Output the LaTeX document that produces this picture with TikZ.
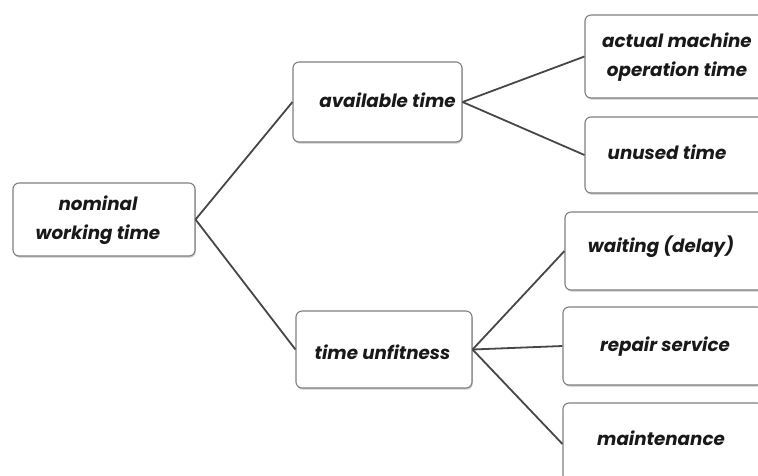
\documentclass[tikz,border=0pt]{standalone}
\usepackage{fontspec}
\setmainfont{Poppins}
\usetikzlibrary{shadows}
\begin{document}
\begin{tikzpicture}[x=1pt,y=-1pt,
  box/.style={draw=black!50, line width=1.1pt, rounded corners=6pt, fill=white,
    drop shadow={shadow xshift=0.8pt, shadow yshift=-1.6pt, opacity=0.35, fill=black!60},
    inner sep=0pt},
  lbl/.style={font=\fontsize{18.3}{29}\selectfont\bfseries\itshape, text=black!90, align=center, inner sep=0pt},
  conn/.style={draw=black!72, line width=1.8pt}]
\useasboundingbox (0,0) rectangle (758,475);
\clip (0,0) rectangle (758,475);
\fill[white] (0,0) rectangle (758,475);
% boxes
\node[box, minimum width=182, minimum height=73] (nom) at (104,219.5) {};
\node[box, minimum width=169, minimum height=80] (avail) at (377.5,102) {};
\node[box, minimum width=176, minimum height=77] (unfit) at (384,349.5) {};
\node[box, minimum width=200, minimum height=83] (actual) at (685,56.5) {};
\node[box, minimum width=200, minimum height=76] (unused) at (685,155) {};
\node[box, minimum width=200, minimum height=78] (wait) at (665,251) {};
\node[box, minimum width=200, minimum height=78] (repair) at (663,346) {};
\node[box, minimum width=200, minimum height=82] (maint) at (663,444) {};
% labels
\node[lbl] (tnom) at (98,220) {nominal\\working time};
\node[lbl] (tavail) at (387.5,100) {available time};
\node[lbl] (tunfit) at (382.5,352) {time unfitness};
\node[lbl] (tactual) at (677,57) {actual machine\\operation time};
\node[lbl] (tunused) at (667,152) {unused time};
\node[lbl] (twait) at (661,247) {waiting (delay)};
\node[lbl] (trepair) at (665,347) {repair service};
\node[lbl] (tmaint) at (661,438) {maintenance};
% connectors
\draw[conn] (nom.east) -- (avail.west);
\draw[conn] (nom.east) -- (unfit.west);
\draw[conn] (avail.east) -- (actual.west);
\draw[conn] (avail.east) -- (unused.west);
\draw[conn] (unfit.east) -- (wait.west);
\draw[conn] (unfit.east) -- (repair.west);
\draw[conn] (unfit.east) -- (maint.west);
\end{tikzpicture}
\end{document}
